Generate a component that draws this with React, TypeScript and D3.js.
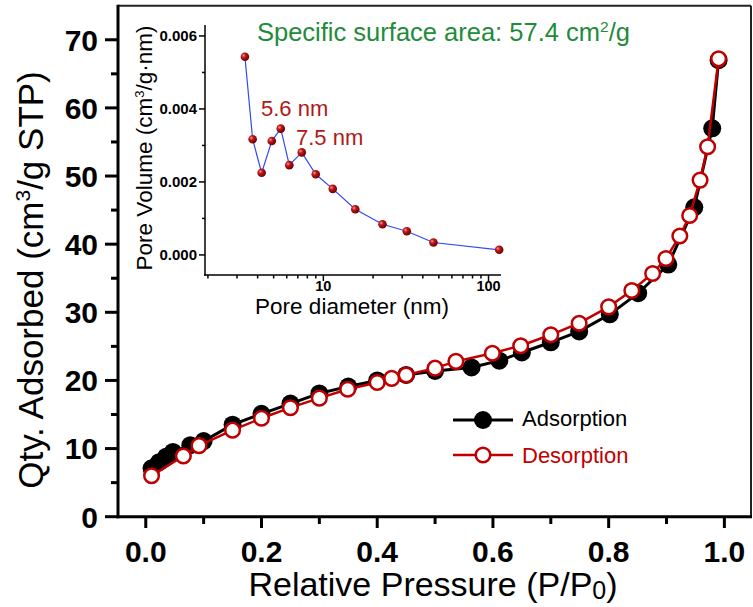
import React from 'react';
import * as d3 from 'd3';

// Isotherm data (relative pressure P/P0, quantity adsorbed cm3/g STP)
const adsP = [0.010, 0.023, 0.035, 0.047, 0.077, 0.100, 0.150, 0.200, 0.250, 0.300, 0.350, 0.400, 0.450, 0.500, 0.563, 0.611, 0.650, 0.700, 0.749, 0.802, 0.851, 0.903, 0.948, 0.979, 0.990];
const adsQ = [7.1, 8.0, 8.8, 9.5, 10.5, 11.1, 13.5, 15.1, 16.6, 18.1, 19.1, 20.0, 20.8, 21.4, 21.9, 22.9, 24.1, 25.6, 27.2, 29.7, 32.8, 37.0, 45.4, 57.0, 67.0];
const desP = [0.990, 0.971, 0.958, 0.940, 0.923, 0.899, 0.876, 0.840, 0.800, 0.749, 0.700, 0.648, 0.599, 0.536, 0.500, 0.450, 0.425, 0.400, 0.349, 0.300, 0.250, 0.200, 0.150, 0.092, 0.065, 0.010];
const desQ = [67.2, 54.3, 49.4, 44.2, 41.2, 37.9, 35.7, 33.2, 30.8, 28.4, 26.7, 25.1, 24.0, 22.8, 21.8, 20.8, 20.3, 19.7, 18.7, 17.4, 16.0, 14.45, 12.7, 10.43, 8.9, 6.0];

// Pore size distribution (inset)
const poreD = [3.35, 3.73, 4.23, 4.87, 5.52, 6.22, 7.40, 8.99, 11.4, 15.6, 22.8, 32.0, 46.4, 116];
const poreV = [0.00543, 0.00317, 0.00225, 0.00312, 0.00346, 0.00246, 0.00281, 0.00221, 0.00181, 0.00125, 0.00084, 0.00065, 0.00034, 0.00014];

const xTicks = [0, 0.2, 0.4, 0.6, 0.8, 1.0];
const xMinor = [0.1, 0.3, 0.5, 0.7, 0.9];
const yTicks = [0, 10, 20, 30, 40, 50, 60, 70];
const yMinor = [5, 15, 25, 35, 45, 55, 65];
const inYTicks = [0, 0.002, 0.004, 0.006];
const inYMinor = [0.001, 0.003, 0.005];
const inXTicks = [10, 100];
const inXMinor = [2, 3, 4, 5, 6, 7, 8, 9, 20, 30, 40, 50, 60, 70, 80, 90];

const FONT = "'Liberation Sans', Arial, Helvetica, sans-serif";
const RED = '#c00000';

export default function App() {
  const W = 753, H = 607;
  const x = d3.scaleLinear().domain([-0.048, 1.046]).range([118, 751]);
  const y = d3.scaleLinear().domain([0, 75]).range([516.7, 5.7]);

  const ix = d3.scaleLog().domain([1.92, 119]).range([205, 501]);
  const iy = d3.scaleLinear().domain([-0.00055, 0.0063]).range([275, 25]);

  const adsLine = d3.line<number>().x((_, i) => x(adsP[i])).y((_, i) => y(adsQ[i]))(adsP.map((v) => v)) || '';
  const desLine = d3.line<number>().x((_, i) => x(desP[i])).y((_, i) => y(desQ[i]))(desP.map((v) => v)) || '';
  const poreLine = d3.line<number>().x((_, i) => ix(poreD[i])).y((_, i) => iy(poreV[i]))(poreD.map((v) => v)) || '';

  const fmt3 = d3.format('.3f');
  const fmt1 = d3.format('.1f');

  return (
    <svg width={W} height={H} style={{ position: 'absolute', left: 0, top: 0, background: '#fff' }} fontFamily={FONT}>
      <defs>
        <radialGradient id="ball" cx="35%" cy="35%" r="65%">
          <stop offset="0%" stopColor="#f4a0a0" />
          <stop offset="35%" stopColor="#c41a1a" />
          <stop offset="100%" stopColor="#6e0000" />
        </radialGradient>
      </defs>
      <rect x={0} y={0} width={W} height={H} fill="#fff" />

      {/* frame */}
      <line x1={118} x2={751} y1={5.7} y2={5.7} stroke="#222" strokeWidth={2} />
      <line x1={751} x2={751} y1={5.7} y2={516.7} stroke="#222" strokeWidth={2} />
      <line x1={118} x2={118} y1={4.7} y2={518.2} stroke="#000" strokeWidth={3} />
      <line x1={116.5} x2={752} y1={516.7} y2={516.7} stroke="#000" strokeWidth={3} />

      {/* y ticks */}
      {yTicks.map((t) => (
        <g key={'y' + t}>
          <line x1={105} x2={118} y1={y(t)} y2={y(t)} stroke="#000" strokeWidth={3} />
          <text x={98} y={y(t) + 10.8} textAnchor="end" fontSize={30} fontWeight="bold">{t}</text>
        </g>
      ))}
      {yMinor.map((t) => (
        <line key={'ym' + t} x1={111} x2={118} y1={y(t)} y2={y(t)} stroke="#000" strokeWidth={3} />
      ))}

      {/* x ticks */}
      {xTicks.map((t) => (
        <g key={'x' + t}>
          <line x1={x(t)} x2={x(t)} y1={516.7} y2={528} stroke="#000" strokeWidth={3} />
          <text x={x(t)} y={561.5} textAnchor="middle" fontSize={30} fontWeight="bold">{fmt1(t)}</text>
        </g>
      ))}
      {xMinor.map((t) => (
        <line key={'xm' + t} x1={x(t)} x2={x(t)} y1={516.7} y2={524} stroke="#000" strokeWidth={3} />
      ))}

      {/* axis titles */}
      <text x={433} y={596} textAnchor="middle" fontSize={34}>
        Relative Pressure (P/P<tspan fontSize={25} dy={3}>0</tspan><tspan dy={-3}>)</tspan>
      </text>
      <text transform="translate(43,280) rotate(-90)" textAnchor="middle" fontSize={35}>
        Qty. Adsorbed (cm<tspan fontSize={21} dy={-13}>3</tspan><tspan dy={13}>/g STP)</tspan>
      </text>

      {/* adsorption */}
      <path d={adsLine} fill="none" stroke="#000" strokeWidth={3} />
      {adsP.map((p, i) => (
        <circle key={'a' + i} cx={x(p)} cy={y(adsQ[i])} r={9} fill="#000" />
      ))}
      {/* desorption */}
      <path d={desLine} fill="none" stroke={RED} strokeWidth={2.5} />
      {desP.map((p, i) => (
        <circle key={'d' + i} cx={x(p)} cy={y(desQ[i])} r={7.3} fill="#fff" stroke={RED} strokeWidth={2.5} />
      ))}

      {/* legend */}
      <line x1={453} x2={513} y1={420} y2={420} stroke="#000" strokeWidth={3} />
      <circle cx={483} cy={420} r={9} fill="#000" />
      <text x={522} y={425.5} fontSize={22}>Adsorption</text>
      <line x1={453} x2={513} y1={455} y2={455} stroke={RED} strokeWidth={2.5} />
      <circle cx={483} cy={455} r={7.3} fill="#fff" stroke={RED} strokeWidth={2.5} />
      <text x={522} y={463} fontSize={22} fill={RED}>Desorption</text>

      {/* inset */}
      <g>
        <line x1={205} x2={205} y1={25} y2={275.75} stroke="#000" strokeWidth={1.5} />
        <line x1={204.25} x2={501} y1={275} y2={275} stroke="#000" strokeWidth={1.5} />
        {inYTicks.map((t) => (
          <g key={'iy' + t}>
            <line x1={199} x2={205} y1={iy(t)} y2={iy(t)} stroke="#000" strokeWidth={1.5} />
            <text x={197} y={iy(t) + 5} textAnchor="end" fontSize={15} fontWeight="bold">{fmt3(t)}</text>
          </g>
        ))}
        {inYMinor.map((t) => (
          <line key={'iym' + t} x1={202} x2={205} y1={iy(t)} y2={iy(t)} stroke="#000" strokeWidth={1.5} />
        ))}
        {inXTicks.map((t) => (
          <g key={'ix' + t}>
            <line x1={ix(t)} x2={ix(t)} y1={275} y2={281} stroke="#000" strokeWidth={1.5} />
            <text x={ix(t)} y={290.5} textAnchor="middle" fontSize={14.5} fontWeight="bold">{t}</text>
          </g>
        ))}
        {inXMinor.map((t) => (
          <line key={'ixm' + t} x1={ix(t)} x2={ix(t)} y1={275} y2={278.5} stroke="#000" strokeWidth={1.5} />
        ))}
        <text x={352} y={314} textAnchor="middle" fontSize={22.5}>Pore diameter (nm)</text>
        <text transform="translate(152,148) rotate(-90)" textAnchor="middle" fontSize={22.5}>
          Pore Volume (cm<tspan fontSize={13} dy={-8}>3</tspan><tspan dy={8}>/g·nm)</tspan>
        </text>
        <path d={poreLine} fill="none" stroke="#3348f0" strokeWidth={1.2} />
        {poreD.map((d, i) => (
          <circle key={'p' + i} cx={ix(d)} cy={iy(poreV[i])} r={4.3} fill="url(#ball)" />
        ))}
        <text x={261} y={116} fontSize={22} fill="#b01818">5.6 nm</text>
        <text x={296} y={145} fontSize={22} fill="#b01818">7.5 nm</text>
      </g>

      <text x={257} y={41} fontSize={25.5} fill="#1e8c3a">
        Specific surface area: 57.4 cm<tspan fontSize={15.5} dy={-9.5}>2</tspan><tspan dy={9.5}>/g</tspan>
      </text>
    </svg>
  );
}
